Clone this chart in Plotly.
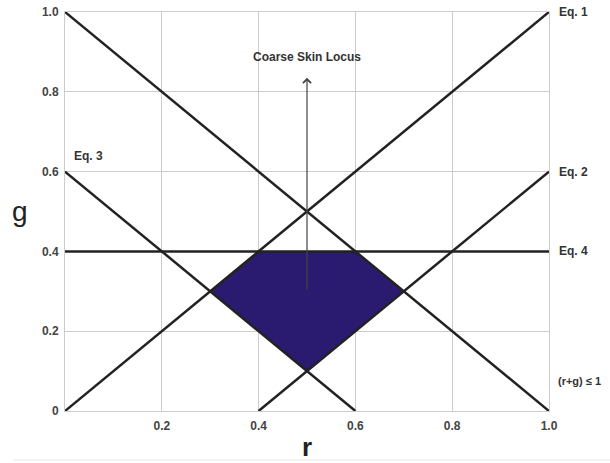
import plotly.graph_objects as go

# Data
lines = {
    "Eq. 1": ([0.0, 1.0], [0.0, 1.0]),
    "Eq. 2": ([0.4, 1.0], [0.0, 0.6]),
    "Eq. 3": ([0.0, 0.6], [0.6, 0.0]),
    "Eq. 4": ([0.0, 1.0], [0.4, 0.4]),
    "(r+g) ≤ 1": ([0.0, 1.0], [1.0, 0.0]),
}
locus_r = [0.3, 0.4, 0.6, 0.7, 0.5, 0.3]
locus_g = [0.3, 0.4, 0.4, 0.3, 0.1, 0.3]
x_ticks = [0.2, 0.4, 0.6, 0.8, 1.0]
x_labels = ["0.2", "0.4", "0.6", "0.8", "1.0"]
y_ticks = [0.0, 0.2, 0.4, 0.6, 0.8, 1.0]
y_labels = ["0", "0.2", "0.4", "0.6", "0.8", "1.0"]
arrow_start = (0.5, 0.3)
arrow_end = (0.5, 0.835)

fig = go.Figure()
fig.add_trace(go.Scatter(x=locus_r, y=locus_g, fill="toself", fillcolor="#2a1a70",
                         mode="none", hoverinfo="skip", showlegend=False))
for name, (xs, ys) in lines.items():
    fig.add_trace(go.Scatter(x=xs, y=ys, mode="lines", line=dict(color="#222222", width=2.5),
                             showlegend=False, hoverinfo="skip"))

lab_font = dict(family="Liberation Sans, Arial, sans-serif", size=12, color="#333333")
anns = [
    dict(x=1.0, y=1.0, text="<b>Eq. 1</b>", xanchor="left", xshift=8, yanchor="middle"),
    dict(x=1.0, y=0.6, text="<b>Eq. 2</b>", xanchor="left", xshift=8, yanchor="middle"),
    dict(x=1.0, y=0.4, text="<b>Eq. 4</b>", xanchor="left", xshift=8, yanchor="middle"),
    dict(x=0.015, y=0.64, text="<b>Eq. 3</b>", xanchor="left", yanchor="middle"),
    dict(x=1.0, y=0.075, text="<b>(r+g) ≤ 1</b>", xanchor="left", xshift=7, yanchor="middle",
         font=dict(family="Liberation Sans, Arial, sans-serif", size=11, color="#333333")),
    dict(x=0.5, y=0.888, text="<b>Coarse Skin Locus</b>", xanchor="center", yanchor="middle"),
]
for a in anns:
    a.setdefault("font", lab_font)
    fig.add_annotation(showarrow=False, xref="x", yref="y", **a)

fig.add_annotation(x=arrow_end[0], y=arrow_end[1], ax=arrow_start[0], ay=arrow_start[1],
                   xref="x", yref="y", axref="x", ayref="y", showarrow=True,
                   arrowhead=4, arrowsize=1.3, arrowwidth=1.2, arrowcolor="#444444", text="")

fig.add_annotation(x=-0.093, y=0.499, text="g", showarrow=False, xref="paper", yref="paper",
                   xanchor="center", yanchor="middle",
                   font=dict(family="Liberation Sans, Arial, sans-serif", size=28, color="#222222"))
fig.add_annotation(x=0.5, y=-0.091, text="<b>r</b>", showarrow=False, xref="paper", yref="paper",
                   xanchor="center", yanchor="middle",
                   font=dict(family="Liberation Sans, Arial, sans-serif", size=26, color="#222222"))

fig.add_shape(type="line", xref="paper", yref="paper", x0=-0.107, x1=1.13, y0=-0.123, y1=-0.123,
              line=dict(color="#e6e6e6", width=1))

tick_font = dict(family="Liberation Sans, Arial, sans-serif", size=12, color="#444444")
fig.update_layout(
    width=610, height=463,
    margin=dict(l=65, r=61, t=12, b=52, autoexpand=False),
    plot_bgcolor="white", paper_bgcolor="white",
    xaxis=dict(range=[0, 1], tickvals=x_ticks, ticktext=["<b>%s</b>" % t for t in x_labels],
               showgrid=True, gridcolor="#cccccc", gridwidth=1, zeroline=False, automargin=False,
               showline=True, linecolor="#cccccc", mirror=True, ticks="", tickfont=tick_font,
               ticklabelstandoff=4),
    yaxis=dict(range=[0, 1], tickvals=y_ticks, ticktext=["<b>%s</b>" % t for t in y_labels],
               showgrid=True, gridcolor="#cccccc", gridwidth=1, zeroline=False, automargin=False,
               showline=True, linecolor="#cccccc", mirror=True, ticks="", tickfont=tick_font,
               ticklabelstandoff=3),
)
fig.write_html("out.html", config={"displayModeBar": False},
               post_script="document.body.style.margin='0';document.body.style.overflow='hidden';")
